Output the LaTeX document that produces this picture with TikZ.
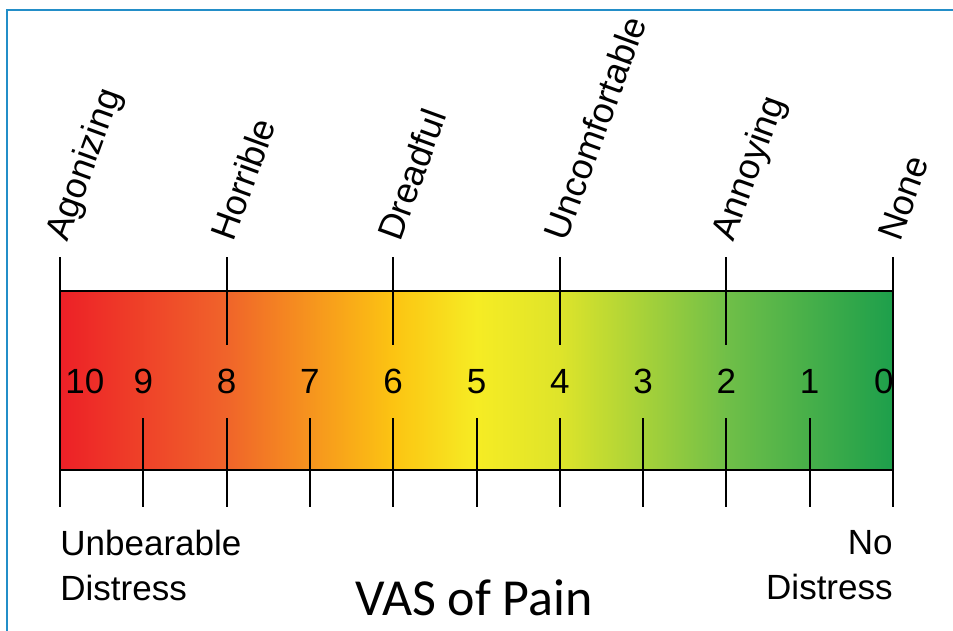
\documentclass[tikz,border=0pt]{standalone}
\usepackage{fontspec}
\setmainfont{Liberation Sans}
\newfontfamily\titlefont{Carlito}
\usepackage{xcolor}
\usepackage{tikz}
\usetikzlibrary{positioning}
\definecolor{frameblue}{RGB}{35,142,200}
\definecolor{vasred}{RGB}{237,32,39}
\definecolor{vasorange}{RGB}{240,100,42}
\definecolor{vasgold}{RGB}{252,196,18}
\definecolor{vasyellow}{RGB}{246,236,36}
\definecolor{vaslime}{RGB}{222,228,42}
\definecolor{vasgreen}{RGB}{112,191,72}
\definecolor{vasdark}{RGB}{29,159,75}
\pgfdeclarehorizontalshading{vasgrad}{100bp}{color(0bp)=(vasred); color(25bp)=(vasred);
  color(35bp)=(vasorange); color(45bp)=(vasgold); color(50bp)=(vasyellow);
  color(55bp)=(vaslime); color(65bp)=(vasgreen); color(75bp)=(vasdark); color(100bp)=(vasdark)}

\begin{document}
\begin{tikzpicture}[
  x=0.5pt, y=-0.5pt,
  tick/.style={line width=1pt, black},
  num/.style={font=\fontsize{17.5}{20}\selectfont, anchor=base, inner sep=0pt},
  word/.style={font=\fontsize{18}{21}\selectfont, anchor=base west, rotate=70, inner sep=0pt},
  note/.style={font=\fontsize{17.5}{22.5}\selectfont, inner sep=0pt}
]
\useasboundingbox (0,0) rectangle (953,631);
\draw[frameblue, line width=1pt] (7,631) -- (7,10) -- (953,10);

% the scale bar
\shade[shading=vasgrad] (60,291) rectangle (893,470);
\draw[tick] (60,291) rectangle (893,470);

% descriptors on top
\foreach \v/\txt in {10/Agonizing,8/Horrible,6/Dreadful,4/Uncomfortable,2/Annoying,0/None} {
  \draw[tick] ({60+(10-\v)*83.3},257) -- ++(0,88);
  \node[word] (word\v) at ({60+(10-\v)*83.3+7},243) {\txt};
}
% numbers and lower ticks
\foreach \v in {0,...,10} \draw[tick] ({60+(10-\v)*83.3},418) -- ++(0,89);
\foreach \v in {1,...,9} \node[num] (num\v) at ({60+(10-\v)*83.3},393) {\v};
\node[num, anchor=base west] (num10) at (65,393) {10};
\node[num, anchor=base east] (num0) at (894,393) {0};

\node[note, anchor=north west, align=left] (worst) at (60,530) {Unbearable\\Distress};
\node[note, anchor=north east, align=right] (best) at (893,530) {No\\Distress};
\node[font=\titlefont\fontsize{26}{30}\selectfont, anchor=base, inner sep=0pt] (title) at (474,615) {VAS of Pain};
\end{tikzpicture}
\end{document}
